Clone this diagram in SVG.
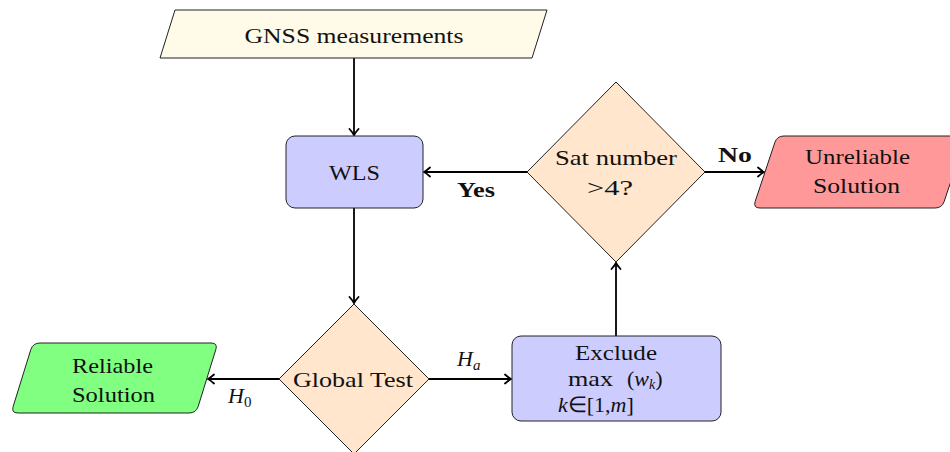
<svg xmlns="http://www.w3.org/2000/svg" width="950" height="452" viewBox="0 0 950 452">
<defs>
<style>
.t{font-family:"Liberation Serif","Times New Roman",serif;font-size:22px;fill:#111;text-anchor:middle}
.b{font-weight:bold}
.i{font-style:italic}
.box{stroke:#222;stroke-width:1}
.conn line{stroke:#000;stroke-width:1.8;fill:none;marker-end:url(#arr)}
</style>
<marker id="arr" viewBox="-8 -6 10 12" refX="0" refY="0" markerWidth="10" markerHeight="12" markerUnits="userSpaceOnUse" orient="auto">
<path d="M-6,-4.5 Q-2,-1 0,0 Q-2,1 -6,4.5" fill="none" stroke="#000" stroke-width="1.8" stroke-linecap="round"/>
</marker>
</defs>
<rect width="950" height="452" fill="#fff"/>

<g id="conn" class="conn">
<line x1="354" y1="58" x2="354" y2="135"/>
<line x1="354" y1="208" x2="354" y2="303"/>
<line x1="279" y1="379" x2="208" y2="379"/>
<line x1="429" y1="379" x2="511" y2="379"/>
<line x1="616" y1="336" x2="616" y2="263"/>
<line x1="527" y1="172" x2="424" y2="172"/>
<line x1="705" y1="172" x2="764" y2="172"/>
</g>

<g id="gnss">
<polygon class="box" points="175,10 547,10 532,58 160,58" fill="#fffbe8"/>
<text class="t" x="354" y="43" textLength="219" lengthAdjust="spacingAndGlyphs">GNSS measurements</text>
</g>

<g id="wls">
<rect class="box" x="286" y="136" width="137" height="72" rx="9" fill="#ccccff"/>
<text class="t" x="354.5" y="180" textLength="51" lengthAdjust="spacingAndGlyphs">WLS</text>
</g>

<g id="sat">
<polygon class="box" points="616,82 705,172 616,262 527,172" fill="#ffe6cc"/>
<text class="t" x="616" y="165" textLength="122" lengthAdjust="spacingAndGlyphs">Sat number</text>
<text class="t" x="610" y="195" textLength="46" lengthAdjust="spacingAndGlyphs">&gt;4?</text>
</g>

<g id="unreliable">
<path class="box" fill="#ff9999" d="M784,136 L959,136 Q966,136 963.8,142.6 L944.2,201.4 Q942,208 935,208 L760,208 Q753,208 755.2,201.4 L774.8,142.6 Q777,136 784,136 Z"/>
<text class="t" x="857.5" y="164" textLength="105" lengthAdjust="spacingAndGlyphs">Unreliable</text>
<text class="t" x="856.5" y="193" textLength="87" lengthAdjust="spacingAndGlyphs">Solution</text>
</g>

<g id="global">
<polygon class="box" points="354,304 429,379 354,454 279,379" fill="#ffe6cc"/>
<text class="t" x="353" y="387" textLength="120" lengthAdjust="spacingAndGlyphs">Global Test</text>
</g>

<g id="reliable">
<path class="box" fill="#80ff80" d="M40,343 L211,343 Q218,343 215.8,349.6 L198.2,406.4 Q196,413 189,413 L18,413 Q11,413 13.2,406.4 L30.8,349.6 Q33,343 40,343 Z"/>
<text class="t" x="112.5" y="373" textLength="81" lengthAdjust="spacingAndGlyphs">Reliable</text>
<text class="t" x="113.5" y="402" textLength="83" lengthAdjust="spacingAndGlyphs">Solution</text>
</g>

<g id="exclude">
<rect class="box" x="512" y="336" width="209" height="85" rx="9" fill="#ccccff"/>
<text class="t" x="616" y="360" textLength="82" lengthAdjust="spacingAndGlyphs">Exclude</text>
<text class="t" x="590.5" y="386" textLength="45" lengthAdjust="spacingAndGlyphs">max</text>
<text class="t" x="627" y="386" style="text-anchor:start">(<tspan class="i">w</tspan><tspan class="i" font-size="14" dy="3">k</tspan><tspan dy="-3">)</tspan></text>
<text class="t" x="558" y="412" font-size="14" style="text-anchor:start"><tspan class="i">k</tspan>∈[1,<tspan class="i">m</tspan>]</text>
</g>

<g id="labels">
<text class="t b" x="476" y="197" textLength="38" lengthAdjust="spacingAndGlyphs">Yes</text>
<text class="t b" x="735" y="162" textLength="34" lengthAdjust="spacingAndGlyphs">No</text>
<text class="t" x="457" y="366" style="text-anchor:start"><tspan class="i">H</tspan><tspan class="i" font-size="15" dy="4">a</tspan></text>
<text class="t" x="228" y="403" style="text-anchor:start"><tspan class="i">H</tspan><tspan font-size="15" dy="4">0</tspan></text>
</g>
</svg>
